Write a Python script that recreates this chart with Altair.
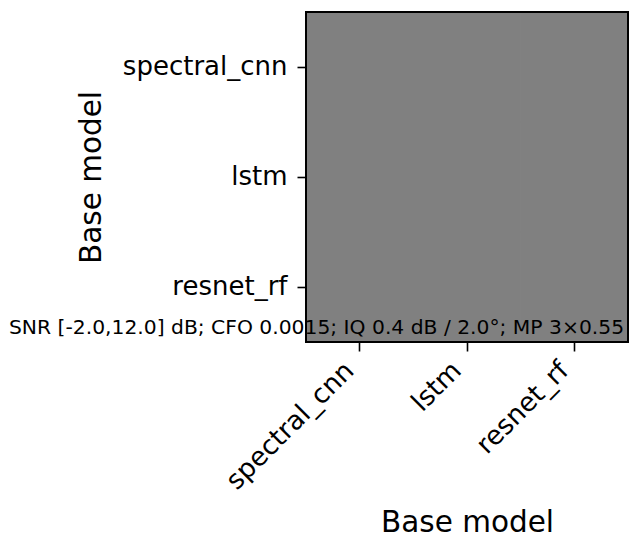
import altair as alt
import pandas as pd

models_x = ["spectral_cnn", "lstm", "resnet_rf"]
models_y = ["spectral_cnn", "lstm", "resnet_rf"]
# all cells share the same (neutral) value -> uniform grey
values = [0.5, 0.5, 0.5,
          0.5, 0.5, 0.5,
          0.5, 0.5, 0.5]
annotation = "SNR [-2.0,12.0] dB; CFO 0.0015; IQ 0.4 dB / 2.0°; MP 3×0.55"

W, H = 322, 330

rows = []
i = 0
for yv in models_y:
    for xv in models_x:
        rows.append({"x": xv, "y": yv, "v": values[i]})
        i += 1
df = pd.DataFrame(rows)

FONT = "DejaVu Sans"

heat = alt.Chart(df).mark_rect(color="#808080", stroke="#808080", strokeWidth=1).encode(
    x=alt.X("x:N", sort=models_x, title="Base model",
            scale=alt.Scale(paddingInner=0, paddingOuter=0),
            axis=alt.Axis(labelAngle=-45, labelAlign="right", labelBaseline="bottom",
                          labelFontSize=26.5, titleFontSize=29.5, tickSize=9,
                          tickWidth=1.6, tickColor="black", domain=False, grid=False,
                          labelPadding=25, titlePadding=14, labelColor="black",
                          titleColor="black", titleFontWeight="normal",
                          labelFont=FONT, titleFont=FONT)),
    y=alt.Y("y:N", sort=models_y, title="Base model",
            scale=alt.Scale(paddingInner=0, paddingOuter=0),
            axis=alt.Axis(labelFontSize=26, titleFontSize=29.5, tickSize=9,
                          tickWidth=1.6, tickColor="black", domain=False, grid=False,
                          labelPadding=10, titlePadding=16, labelColor="black",
                          titleColor="black", titleFontWeight="normal",
                          labelFont=FONT, titleFont=FONT)),
)

frame = alt.Chart(pd.DataFrame({"f": [0]})).mark_rect(
    filled=False, stroke="black", strokeWidth=2
).encode(x=alt.value(0), x2=alt.value(W), y=alt.value(0), y2=alt.value(H))

ann_df = pd.DataFrame({"t": [annotation]})
ann = alt.Chart(ann_df).mark_text(
    align="left", baseline="alphabetic", fontSize=20.3, font=FONT, color="black"
).encode(text="t:N", x=alt.value(-297), y=alt.value(322))

chart = alt.layer(heat, frame, ann).properties(
    width=W, height=H,
    autosize=alt.AutoSizeParams(type="none"),
    padding={"left": 298, "top": 4, "right": 2, "bottom": 192},
).configure_view(stroke=None)

chart.save("out.html", embed_options={"renderer": "svg", "actions": False})
